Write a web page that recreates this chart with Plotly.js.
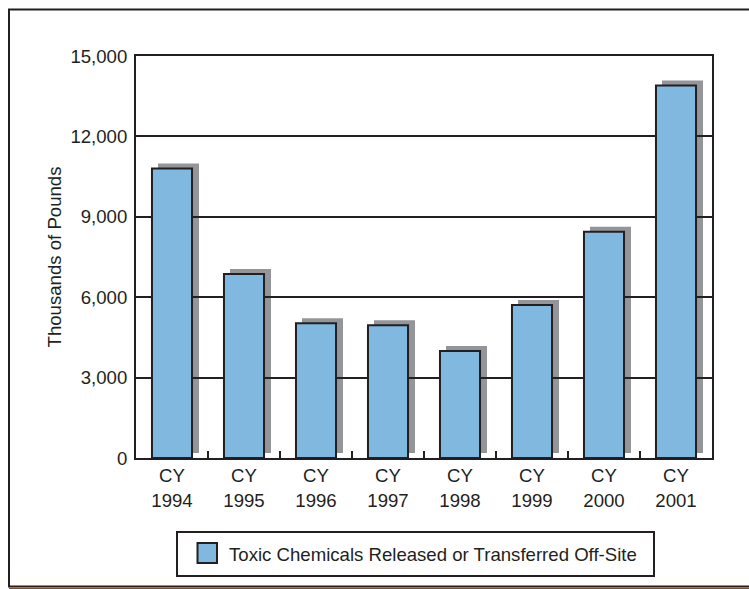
<!DOCTYPE html>
<html>
<head>
<meta charset="utf-8">
<script src="https://cdn.plot.ly/plotly-3.0.1.min.js"></script>
<style>
  html, body { margin: 0; padding: 0; background: #ffffff; }
  #chart { width: 749px; height: 589px; }
</style>
</head>
<body>
<div id="chart"></div>
<script>
// ---- data ----
const years = ['1994', '1995', '1996', '1997', '1998', '1999', '2000', '2001'];
const categoryPrefix = 'CY';
const releases = [10800, 6870, 5030, 4950, 3990, 5710, 8440, 13900];
const seriesName = 'Toxic Chemicals Released or Transferred Off-Site';
const yTickValues = [0, 3000, 6000, 9000, 12000, 15000];
const yTitle = 'Thousands of Pounds';

// ---- layout geometry (pixels) ----
const W = 749, H = 589;
const plotL = 136, plotR = 712, plotT = 56, plotB = 458;
const ink = '#231f20';
const barFill = '#80b8e0';
const shadowFill = '#939598';
const fontFam = '"Liberation Sans", Arial, Helvetica, sans-serif';
const fs = 18.6;
const yMax = 15000;

const px2x = px => (px - plotL) / (plotR - plotL);
const px2y = py => (plotB - py) / (plotB - plotT);
const pxToData = p => p * yMax / (plotB - plotT);

const categories = years.map(y => categoryPrefix + '<br>' + y);

const bars = {
  type: 'bar',
  x: categories,
  y: releases,
  name: seriesName,
  width: 0.556,
  marker: { color: barFill, line: { color: ink, width: 2 } },
  hoverinfo: 'x+y',
  showlegend: false
};

// drop shadows (offset right/up) drawn under the gridlines
const lift = pxToData(5);
const shadows = releases.map((v, i) => ({
  type: 'rect', xref: 'x', yref: 'y', layer: 'below',
  xsizemode: 'pixel', xanchor: i, x0: -14, x1: 27,
  y0: lift, y1: v + lift,
  fillcolor: shadowFill, line: { width: 0 }
}));

const frameShapes = [
  // outer frame
  { type: 'rect', xref: 'paper', yref: 'paper',
    x0: px2x(9), x1: px2x(W + 20), y0: px2y(586.5), y1: px2y(9.5),
    line: { color: ink, width: 2 }, fillcolor: 'rgba(0,0,0,0)', layer: 'above' },
  // brown rule under frame
  { type: 'line', xref: 'paper', yref: 'paper',
    x0: px2x(9), x1: px2x(W + 20), y0: px2y(588.5), y1: px2y(588.5),
    line: { color: '#7a4f2a', width: 1.5 }, layer: 'above' },
  // legend box
  { type: 'rect', xref: 'paper', yref: 'paper',
    x0: px2x(177), x1: px2x(654), y0: px2y(576), y1: px2y(532),
    line: { color: ink, width: 2 }, fillcolor: '#ffffff', layer: 'above' },
  // legend swatch
  { type: 'rect', xref: 'paper', yref: 'paper',
    x0: px2x(197.5), x1: px2x(217), y0: px2y(563), y1: px2y(543),
    line: { color: ink, width: 2 }, fillcolor: barFill, layer: 'above' }
];

const layout = {
  width: W, height: H,
  margin: { l: plotL, r: W - plotR, t: plotT, b: H - plotB, pad: 0 },
  paper_bgcolor: '#ffffff',
  plot_bgcolor: '#ffffff',
  font: { family: fontFam, size: fs, color: ink },
  showlegend: false,
  bargap: 0.444,
  xaxis: {
    type: 'category',
    tickson: 'boundaries',
    ticks: 'inside', ticklen: 7, tickwidth: 2, tickcolor: ink,
    showline: true, linecolor: ink, linewidth: 2, mirror: true,
    showgrid: false, zeroline: false,
    tickfont: { family: fontFam, size: fs, color: ink },
    fixedrange: true
  },
  yaxis: {
    range: [0, yMax],
    tickvals: yTickValues,
    ticktext: yTickValues.map(v => v.toLocaleString('en-US')),
    ticks: '', ticklabelstandoff: 3,
    showline: true, linecolor: ink, linewidth: 2, mirror: true,
    showgrid: true, gridcolor: ink, gridwidth: 2,
    zeroline: false,
    tickfont: { family: fontFam, size: fs, color: ink },
    title: { text: yTitle, font: { family: fontFam, size: fs, color: ink }, standoff: 4 },
    fixedrange: true
  },
  shapes: shadows.concat(frameShapes),
  annotations: [
    { xref: 'paper', yref: 'paper', x: px2x(227), y: px2y(554),
      xanchor: 'left', yanchor: 'middle', showarrow: false,
      text: seriesName, font: { family: fontFam, size: fs, color: ink } }
  ]
};

Plotly.newPlot('chart', [bars], layout, { displayModeBar: false, staticPlot: true });
</script>
</body>
</html>
